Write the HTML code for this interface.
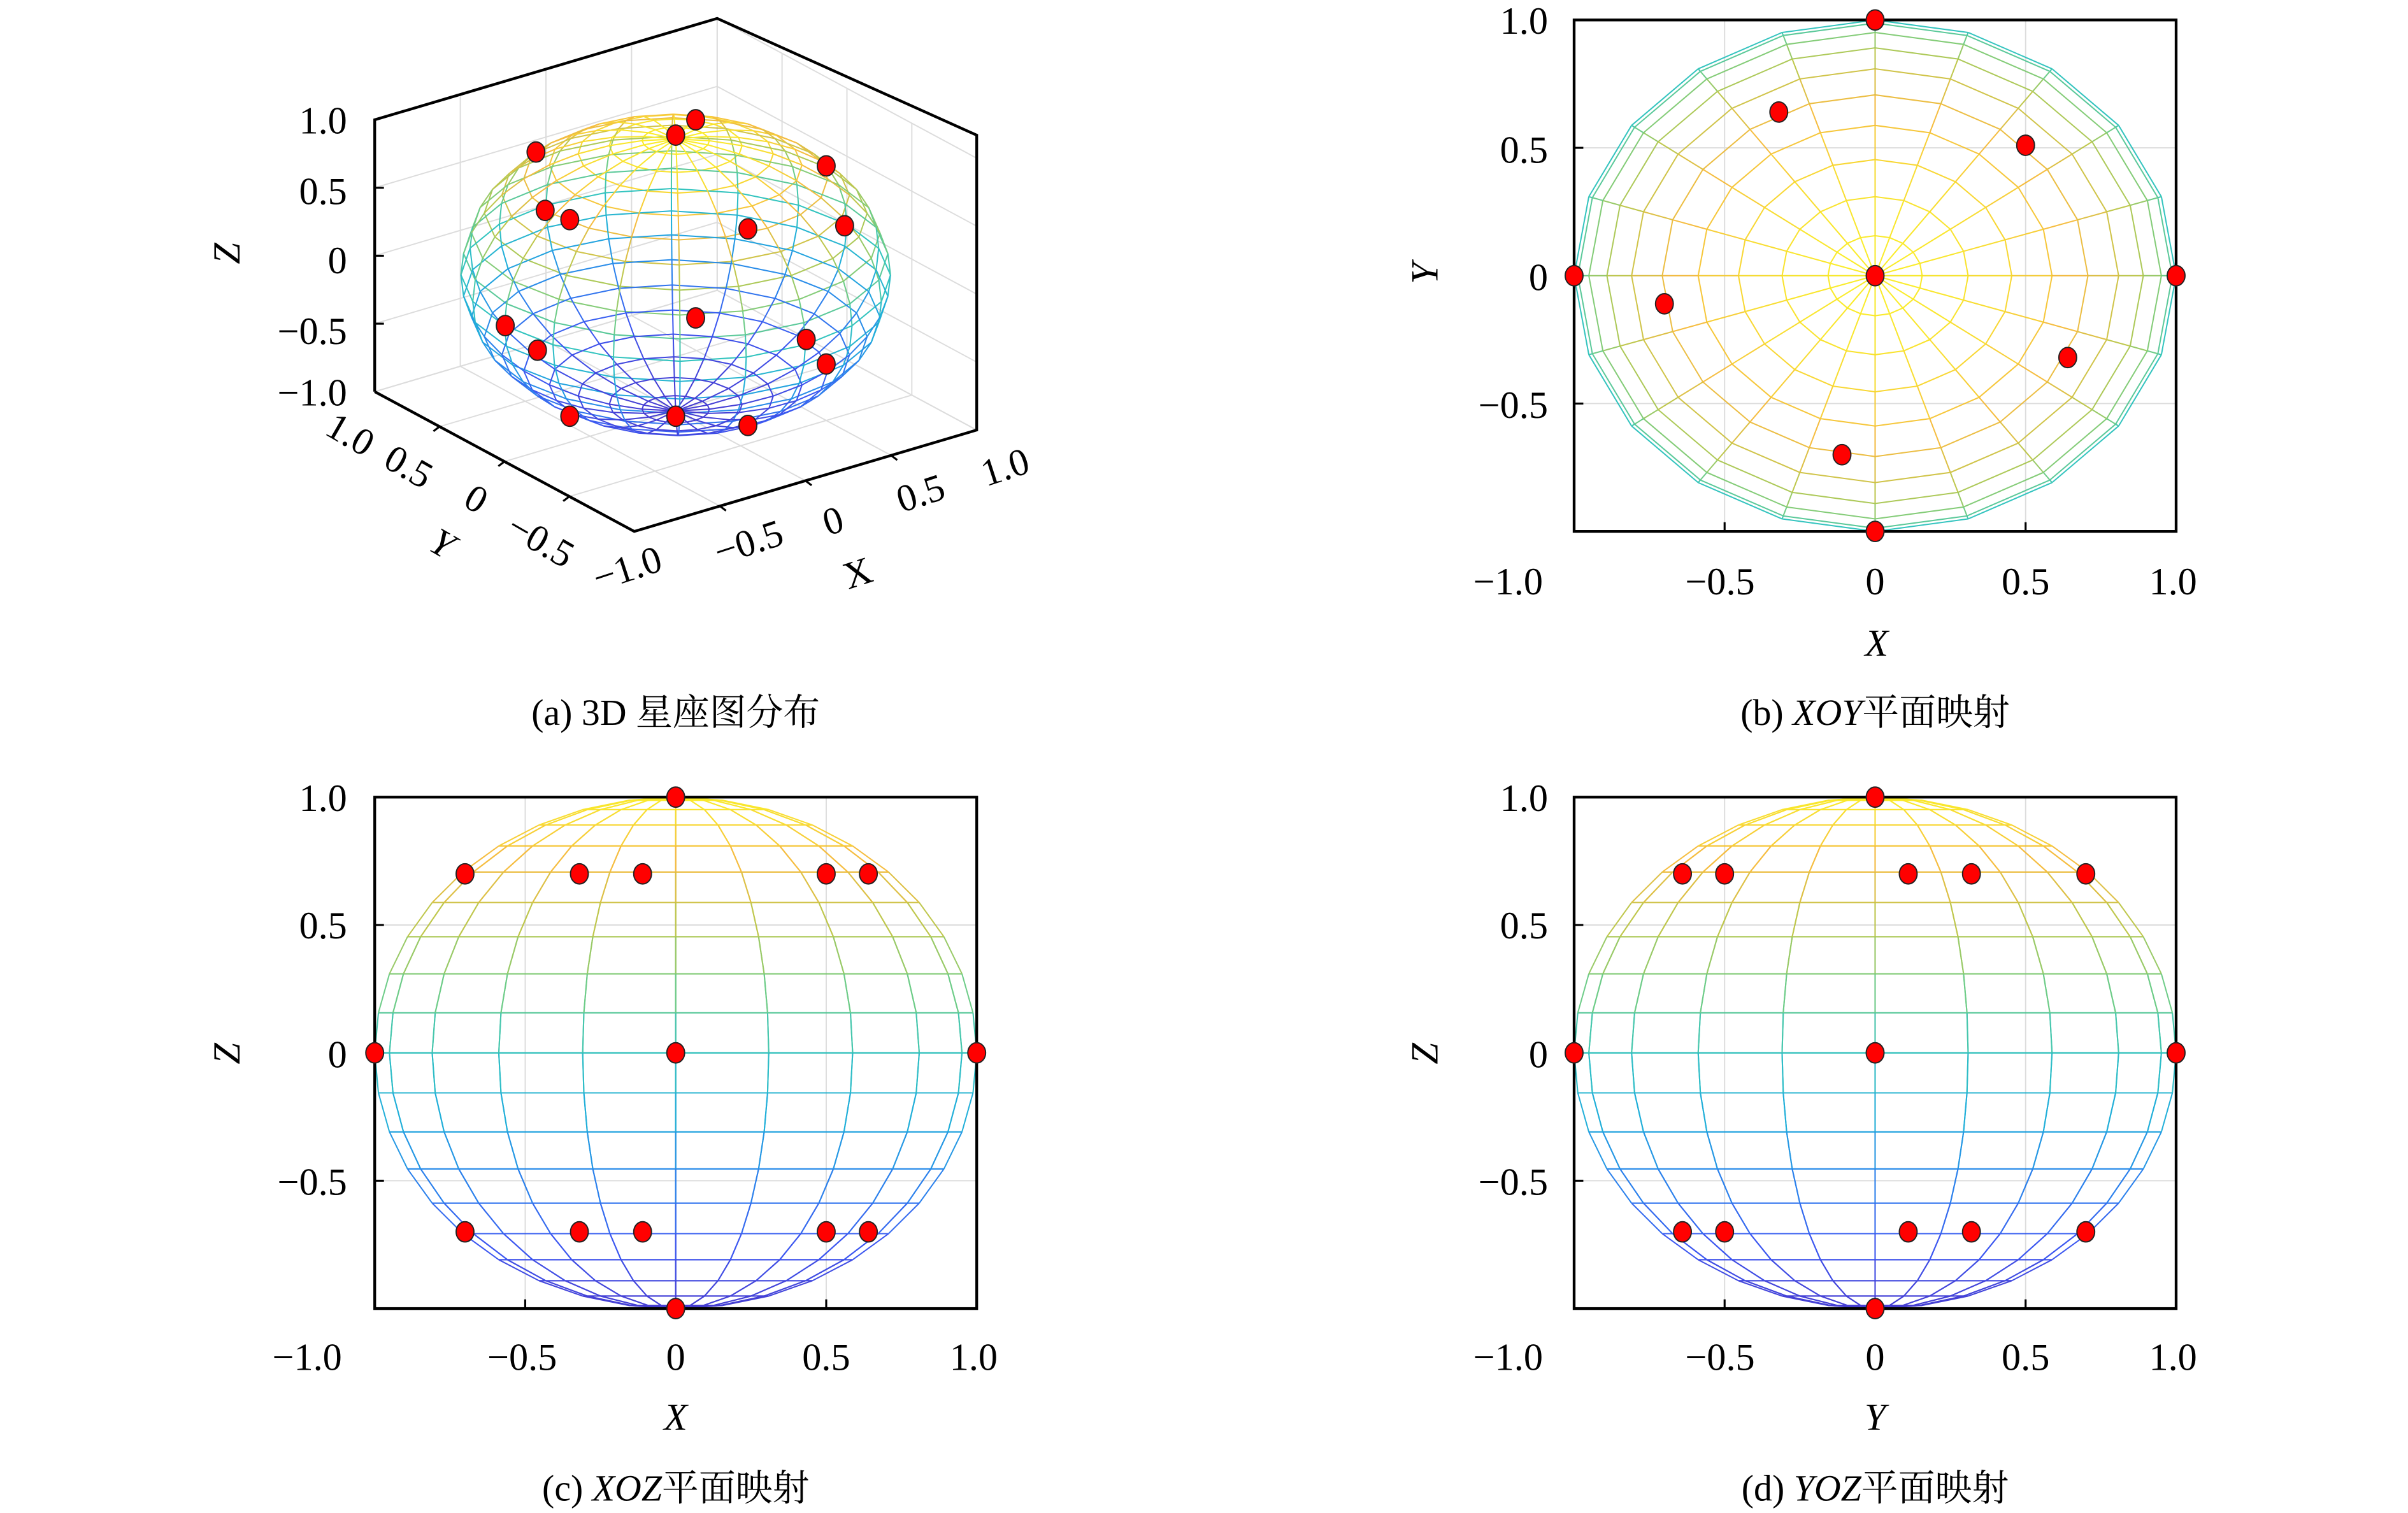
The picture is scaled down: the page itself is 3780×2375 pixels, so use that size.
<!DOCTYPE html>
<html><head><meta charset="utf-8"><style>
html,body{margin:0;padding:0;background:#fff;}
svg{display:block;}
text{font-family:"Liberation Serif","Noto Serif CJK SC",serif;fill:#000;}
.t{font-size:25px;}
.c{font-size:24px;}
</style></head><body>
<svg id="s" width="3780" height="2375" viewBox="0 0 1568 985.1" preserveAspectRatio="none" xmlns="http://www.w3.org/2000/svg">
<defs>
<clipPath id="cb"><rect x="1025" y="13" width="392" height="333"/></clipPath>
<clipPath id="cc"><rect x="244" y="519" width="392" height="333"/></clipPath>
<clipPath id="cd"><rect x="1025" y="519" width="392" height="333"/></clipPath>
</defs>
<g id="grid" stroke="#dcdcdc" stroke-width="0.8" fill="none"></g>
<g id="ga" fill="none" stroke-width="0.85" opacity="0.9"></g>
<g id="gb" fill="none" stroke-width="0.85" clip-path="url(#cb)" opacity="0.9"></g>
<g id="gc" fill="none" stroke-width="0.85" clip-path="url(#cc)" opacity="0.9"></g>
<g id="gd" fill="none" stroke-width="0.85" clip-path="url(#cd)" opacity="0.9"></g>
<g id="axes" stroke="#000" stroke-width="1.8" fill="none">
<polyline points="244,255 244,78 467,12 636,88 636,280 413,346 244,255"/>
<rect x="1025" y="13" width="392" height="333"/>
<rect x="244" y="519" width="392" height="333"/>
<rect x="1025" y="519" width="392" height="333"/>
</g>
<g id="ticks" stroke="#000" stroke-width="1.3"></g>
<g id="dots" fill="#ff0000" stroke="#222" stroke-width="0.8"></g>

<g class="t" text-anchor="end">
<text x="226" y="87">1.0</text>
<text x="226" y="133">0.5</text>
<text x="226" y="178">0</text>
<text x="226" y="224">−0.5</text>
<text x="226" y="264">−1.0</text>
</g>
<text class="t" x="148" y="165" text-anchor="middle" font-style="italic" transform="rotate(-90 148 165)" dy="8">Z</text>
<g class="t" text-anchor="middle">
<text transform="translate(411,378) rotate(-18)">−1.0</text>
<text transform="translate(490,361) rotate(-18)">−0.5</text>
<text transform="translate(545,347) rotate(-18)">0</text>
<text transform="translate(602,329) rotate(-18)">0.5</text>
<text transform="translate(657,312) rotate(-18)">1.0</text>
<text transform="translate(561,381) rotate(-18)">X</text>
<text transform="translate(224,290) rotate(30)">1.0</text>
<text transform="translate(262,311) rotate(30)">0.5</text>
<text transform="translate(306,332) rotate(30)">0</text>
<text transform="translate(348,359) rotate(30)">−0.5</text>
<text transform="translate(284,361) rotate(30)" font-style="italic">Y</text>
</g>
<text class="c" x="440" y="472" text-anchor="middle">(a) 3D 星座图分布</text>

<g class="t" text-anchor="end">
<text x="1008" y="22">1.0</text>
<text x="1008" y="106">0.5</text>
<text x="1008" y="189">0</text>
<text x="1008" y="272">−0.5</text>
</g>
<g class="t" text-anchor="middle">
<text x="982" y="387">−1.0</text>
<text x="1120" y="387">−0.5</text>
<text x="1221" y="387">0</text>
<text x="1319" y="387">0.5</text>
<text x="1415" y="387">1.0</text>
<text x="1222" y="427" font-style="italic">X</text>
</g>
<text class="t" x="928" y="178" text-anchor="middle" font-style="italic" transform="rotate(-90 928 178)" dy="8">Y</text>
<text class="c" x="1221" y="472" text-anchor="middle">(b) <tspan font-style="italic">XOY</tspan>平面映射</text>

<g class="t" text-anchor="end">
<text x="226" y="528">1.0</text>
<text x="226" y="611">0.5</text>
<text x="226" y="695">0</text>
<text x="226" y="778">−0.5</text>
</g>
<g class="t" text-anchor="middle">
<text x="200" y="892">−1.0</text>
<text x="340" y="892">−0.5</text>
<text x="440" y="892">0</text>
<text x="538" y="892">0.5</text>
<text x="634" y="892">1.0</text>
<text x="440" y="931" font-style="italic">X</text>
</g>
<text class="t" x="148" y="686" text-anchor="middle" font-style="italic" transform="rotate(-90 148 686)" dy="8">Z</text>
<text class="c" x="440" y="977" text-anchor="middle">(c) <tspan font-style="italic">XOZ</tspan>平面映射</text>

<g class="t" text-anchor="end">
<text x="1008" y="528">1.0</text>
<text x="1008" y="611">0.5</text>
<text x="1008" y="695">0</text>
<text x="1008" y="778">−0.5</text>
</g>
<g class="t" text-anchor="middle">
<text x="982" y="892">−1.0</text>
<text x="1120" y="892">−0.5</text>
<text x="1221" y="892">0</text>
<text x="1319" y="892">0.5</text>
<text x="1415" y="892">1.0</text>
<text x="1221" y="931" font-style="italic">Y</text>
</g>
<text class="t" x="928" y="686" text-anchor="middle" font-style="italic" transform="rotate(-90 928 686)" dy="8">Z</text>
<text class="c" x="1221" y="977" text-anchor="middle">(d) <tspan font-style="italic">YOZ</tspan>平面映射</text>
</svg>
<script>
var NS="http://www.w3.org/2000/svg";
function el(g,tag,a){var e=document.createElementNS(NS,tag);for(var k in a)e.setAttribute(k,a[k]);document.getElementById(g).appendChild(e);return e;}
function ln(g,x1,y1,x2,y2,c){el(g,"line",{x1:x1.toFixed(2),y1:y1.toFixed(2),x2:x2.toFixed(2),y2:y2.toFixed(2),stroke:c});}
var st=[[50,40,205],[40,70,240],[20,120,235],[10,165,215],[30,190,185],[100,200,120],[180,195,60],[245,180,45],[250,235,20]];
function col(z){var t=Math.max(0,Math.min(1,(z+1)/2))*(st.length-1);var i=Math.min(st.length-2,Math.floor(t));var f=t-i;var a=st[i],b=st[i+1];
return "rgb("+Math.round(a[0]+(b[0]-a[0])*f)+","+Math.round(a[1]+(b[1]-a[1])*f)+","+Math.round(a[2]+(b[2]-a[2])*f)+")";}
var N=20,PI=Math.PI;
function S(i,j){var p=i*PI/N,t=j*2*PI/N;return [Math.sin(p)*Math.cos(t),Math.sin(p)*Math.sin(t),Math.cos(p)];}
function wire(g,proj,filt){
 for(var i=0;i<=N;i++)for(var j=0;j<N;j++){var a=S(i,j),b=S(i,j+1);if(filt&&!filt(a,b))continue;var A=proj(a),B=proj(b);ln(g,A[0],A[1],B[0],B[1],col((a[2]+b[2])/2));}
 for(var j=0;j<N;j++)for(var i=0;i<N;i++){var a=S(i,j),b=S(i+1,j);if(filt&&!filt(a,b))continue;var A=proj(a),B=proj(b);ln(g,A[0],A[1],B[0],B[1],col((a[2]+b[2])/2));}
}
function Pa(v){var x=v[0],y=v[1],z=v[2];return [413+(x+1)/2*223-(y+1)/2*169,346-(x+1)/2*66-(y+1)/2*91-(z+1)/2*177];}
wire("ga",Pa);
wire("gb",function(v){return [1221+v[0]*196,179.5-v[1]*166.5];},function(a,b){return a[2]>-0.01&&b[2]>-0.01;});
wire("gc",function(v){return [440+v[0]*196,685.5-v[2]*166.5];});
wire("gd",function(v){return [1221+v[1]*196,685.5-v[2]*166.5];});
var gr="grid";
[-1,-0.5,0,0.5,1].forEach(function(u){
 var A=Pa([-1,1,u]),B=Pa([1,1,u]),C=Pa([1,-1,u]);ln(gr,A[0],A[1],B[0],B[1],"#dcdcdc");ln(gr,B[0],B[1],C[0],C[1],"#dcdcdc");
 A=Pa([u,1,-1]);B=Pa([u,1,1]);ln(gr,A[0],A[1],B[0],B[1],"#dcdcdc");
 A=Pa([u,-1,-1]);B=Pa([u,1,-1]);ln(gr,A[0],A[1],B[0],B[1],"#dcdcdc");
 A=Pa([1,u,-1]);B=Pa([1,u,1]);ln(gr,A[0],A[1],B[0],B[1],"#dcdcdc");
 A=Pa([-1,u,-1]);B=Pa([1,u,-1]);ln(gr,A[0],A[1],B[0],B[1],"#dcdcdc");
});
[[1025,13],[244,519],[1025,519]].forEach(function(o){
 [0.5,1,1.5].forEach(function(f){ln(gr,o[0]+196*f,o[1],o[0]+196*f,o[1]+333,"#dcdcdc");});
 [0.5,1,1.5].forEach(function(f){ln(gr,o[0],o[1]+166.5*f,o[0]+392,o[1]+166.5*f,"#dcdcdc");});
 [0.5,1,1.5].forEach(function(f){ln("ticks",o[0]+196*f,o[1]+333,o[0]+196*f,o[1]+327,"#000");ln("ticks",o[0],o[1]+166.5*f,o[0]+6,o[1]+166.5*f,"#000");});
});
[-0.5,0,0.5].forEach(function(u){var A=Pa([u,-1,-1]);ln("ticks",A[0],A[1],A[0]+4,A[1]+3,"#000");A=Pa([-1,u,-1]);ln("ticks",A[0],A[1],A[0]-4,A[1]+3,"#000");A=Pa([-1,1,u]);ln("ticks",A[0],A[1],A[0]+6,A[1],"#000");});
function dot(x,y){el("dots","ellipse",{cx:x,cy:y,rx:5.8,ry:6.6});}
[[349,99],[453,78],[440,88],[538,108],[355,137],[371,143],[487,149],[550,147],[329,212],[453,207],[350,228],[525,221],[538,237],[371,271],[440,271],[487,277]].forEach(function(p){dot(p[0],p[1]);});
function pb(x,y){dot(1221+x*196,179.5-y*166.5);}
[[0,1],[0,-1],[-1,0],[1,0],[0,0],[-0.32,0.64],[0.5,0.51],[-0.7,-0.11],[0.64,-0.32],[-0.11,-0.7]].forEach(function(p){pb(p[0],p[1]);});
function pc(ox,x,z){dot(ox+x*196,685.5-z*166.5);}
[[0,1],[0,-1],[-1,0],[1,0],[0,0]].forEach(function(p){pc(440,p[0],p[1]);pc(1221,p[0],p[1]);});
[-0.7,-0.32,-0.11,0.5,0.64].forEach(function(x){pc(440,x,0.7);pc(440,x,-0.7);});
[-0.64,-0.5,0.11,0.32,0.7].forEach(function(x){pc(1221,x,0.7);pc(1221,x,-0.7);});
</script>
</body></html>
